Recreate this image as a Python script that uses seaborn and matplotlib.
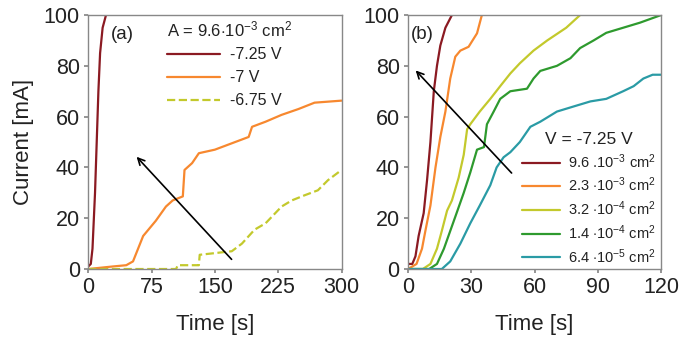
import numpy as np
import pandas as pd
import matplotlib
matplotlib.use("Agg")
import matplotlib.pyplot as plt
import seaborn as sns

# panel (a): A = 9.6e-3 cm2, three voltages
t_a1 = [0, 3, 5, 8, 10, 12, 14, 17, 21]
i_a1 = [1, 2, 8, 30, 50, 70, 85, 95, 100]

t_a2 = [0, 29, 45, 53, 65, 80, 92, 100, 112, 114, 123, 131, 150, 170, 190, 194, 210, 229, 249, 268, 288, 300]
i_a2 = [0, 1, 1.5, 3, 13, 19, 24.6, 27, 28.6, 39, 41.7, 45.6, 47, 49.5, 52, 56, 58, 60.7, 63, 65.5, 66, 66.3]

t_a3 = [0, 104, 106, 131, 132, 170, 182, 197, 210, 229, 241, 256, 272, 284, 300]
i_a3 = [0, 0, 1.5, 1.5, 5.6, 7, 10, 15.5, 18, 24.6, 27, 29, 31, 35, 39]

labels_a = ["-7.25 V", "-7 V", "-6.75 V"]

# panel (b): V = -7.25 V, five areas
t_b1 = [0, 2, 3.5, 5, 7.4, 9, 10.6, 12.2, 13.7, 15.3, 17.7, 20.8]
i_b1 = [2, 2, 5, 13, 22, 35, 50, 70, 80, 88, 95, 100]

t_b2 = [0, 2, 4, 6.6, 8.2, 10.6, 13, 15.3, 17.7, 20, 22.4, 24.8, 28.7, 32.7, 35]
i_b2 = [0, 1, 2, 8, 15, 25, 40, 52, 62, 75, 83.6, 86, 87.5, 92.8, 100]

t_b3 = [0, 7, 10.6, 13.7, 16, 18.5, 20.8, 24, 26.4, 28, 29.5, 34, 39, 43.7, 48.5, 53, 59.5, 66, 75, 81.6]
i_b3 = [0, 0, 2, 8, 15, 23, 27, 36, 45, 55, 57, 62, 67, 72, 77, 81, 86, 90, 95, 100]

t_b4 = [0, 10, 13.7, 17, 20, 23, 26.4, 29.5, 32.7, 36, 37.4, 40.6, 43.7, 48.5, 56.4, 59.5, 62.7, 70.6, 77, 81.6, 88, 94, 102, 110, 120]
i_b4 = [0, 0, 2, 8, 15, 22, 30, 38, 47, 48, 57, 62, 67, 70, 71, 75, 78, 80, 83, 87, 90, 93, 95, 97, 100]

t_b5 = [0, 16, 20, 24.8, 29.5, 34, 39, 42, 45.3, 48.5, 53, 58, 62.7, 70.6, 78.5, 86.5, 94, 102, 107, 111.6, 116, 120]
i_b5 = [0, 0, 3, 10, 18, 25, 33, 40, 44, 46, 50, 56, 58, 62, 64, 66, 67, 70, 72, 75, 76.5, 76.5]

labels_b = [r"9.6 .10$^{-3}$ cm$^2$", r"2.3 $\cdot$10$^{-3}$ cm$^2$", r"3.2 $\cdot$10$^{-4}$ cm$^2$",
            r"1.4 $\cdot$10$^{-4}$ cm$^2$", r"6.4 $\cdot$10$^{-5}$ cm$^2$"]

colors_a = ["#8b1a22", "#f7882f", "#c3c92c"]
colors_b = ["#8b1a22", "#f7882f", "#c3c92c", "#2e9a2e", "#2a9ba5"]

sns.set_theme(style="white")
plt.rcParams["font.family"] = ["Liberation Sans", "DejaVu Sans"]
plt.rcParams["mathtext.fontset"] = "custom"
plt.rcParams["mathtext.rm"] = "Liberation Sans"
plt.rcParams["mathtext.it"] = "Liberation Sans:italic"

fig = plt.figure(figsize=(6.79, 3.46), dpi=100)
ax1 = fig.add_axes([0.130, 0.2225, 0.373, 0.734])
ax2 = fig.add_axes([0.601, 0.2225, 0.3726, 0.734])

series_a = [(t_a1, i_a1), (t_a2, i_a2), (t_a3, i_a3)]
for k, (t, i) in enumerate(series_a):
    df = pd.DataFrame({"t": t, "i": i})
    sns.lineplot(data=df, x="t", y="i", ax=ax1, color=colors_a[k], lw=1.6,
                 label=labels_a[k], linestyle="--" if k == 2 else "-", sort=False)

series_b = [(t_b1, i_b1), (t_b2, i_b2), (t_b3, i_b3), (t_b4, i_b4), (t_b5, i_b5)]
for k, (t, i) in enumerate(series_b):
    df = pd.DataFrame({"t": t, "i": i})
    sns.lineplot(data=df, x="t", y="i", ax=ax2, color=colors_b[k], lw=1.6,
                 label=labels_b[k], sort=False)

for ax, xmax, step in [(ax1, 300, 75), (ax2, 120, 30)]:
    ax.set_xlim(0, xmax)
    ax.set_ylim(0, 100)
    ax.set_xticks(np.arange(0, xmax + 1, step))
    ax.set_yticks(np.arange(0, 101, 20))
    ax.tick_params(labelsize=15.5, colors="#222222", length=3, direction="out",
                   bottom=True, left=True, pad=3)
    ax.tick_params(axis="both", color="#888888")
    for s in ax.spines.values():
        s.set_color("#888888")
        s.set_linewidth(1)
    ax.set_xlabel("Time [s]", fontsize=16, color="#222222", labelpad=11)
    ax.set_ylabel("")

ax1.set_ylabel("Current [mA]", fontsize=16, color="#222222", labelpad=7)

ax1.text(27, 92.5, "(a)", fontsize=13.5, color="#222222", va="center")
ax2.text(1.5, 92.5, "(b)", fontsize=13.5, color="#222222", va="center")

ax1.annotate("", xy=(55, 45), xytext=(172, 3),
             arrowprops=dict(arrowstyle="->", color="black", lw=1.2))
ax2.annotate("", xy=(2.7, 79), xytext=(50, 37),
             arrowprops=dict(arrowstyle="->", color="black", lw=1.2))

leg1 = ax1.legend(title=r"A = 9.6$\cdot$10$^{-3}$ cm$^2$", loc="upper left",
                  bbox_to_anchor=(0.274, 1.02), frameon=False, fontsize=11.5,
                  title_fontsize=12, alignment="left", handlelength=3.3,
                  handletextpad=0.6, labelspacing=0.5, borderaxespad=0.2)
leg2 = ax2.legend(title="V = -7.25 V", loc="lower right",
                  bbox_to_anchor=(1.01, -0.015), frameon=False, fontsize=10.5,
                  title_fontsize=12.5, alignment="center", handlelength=2.6,
                  handletextpad=0.6, labelspacing=0.35, borderaxespad=0.1)
for leg in (leg1, leg2):
    for txt in leg.get_texts():
        txt.set_color("#222222")
    leg.get_title().set_color("#222222")

fig.savefig("out.png", dpi=100)
